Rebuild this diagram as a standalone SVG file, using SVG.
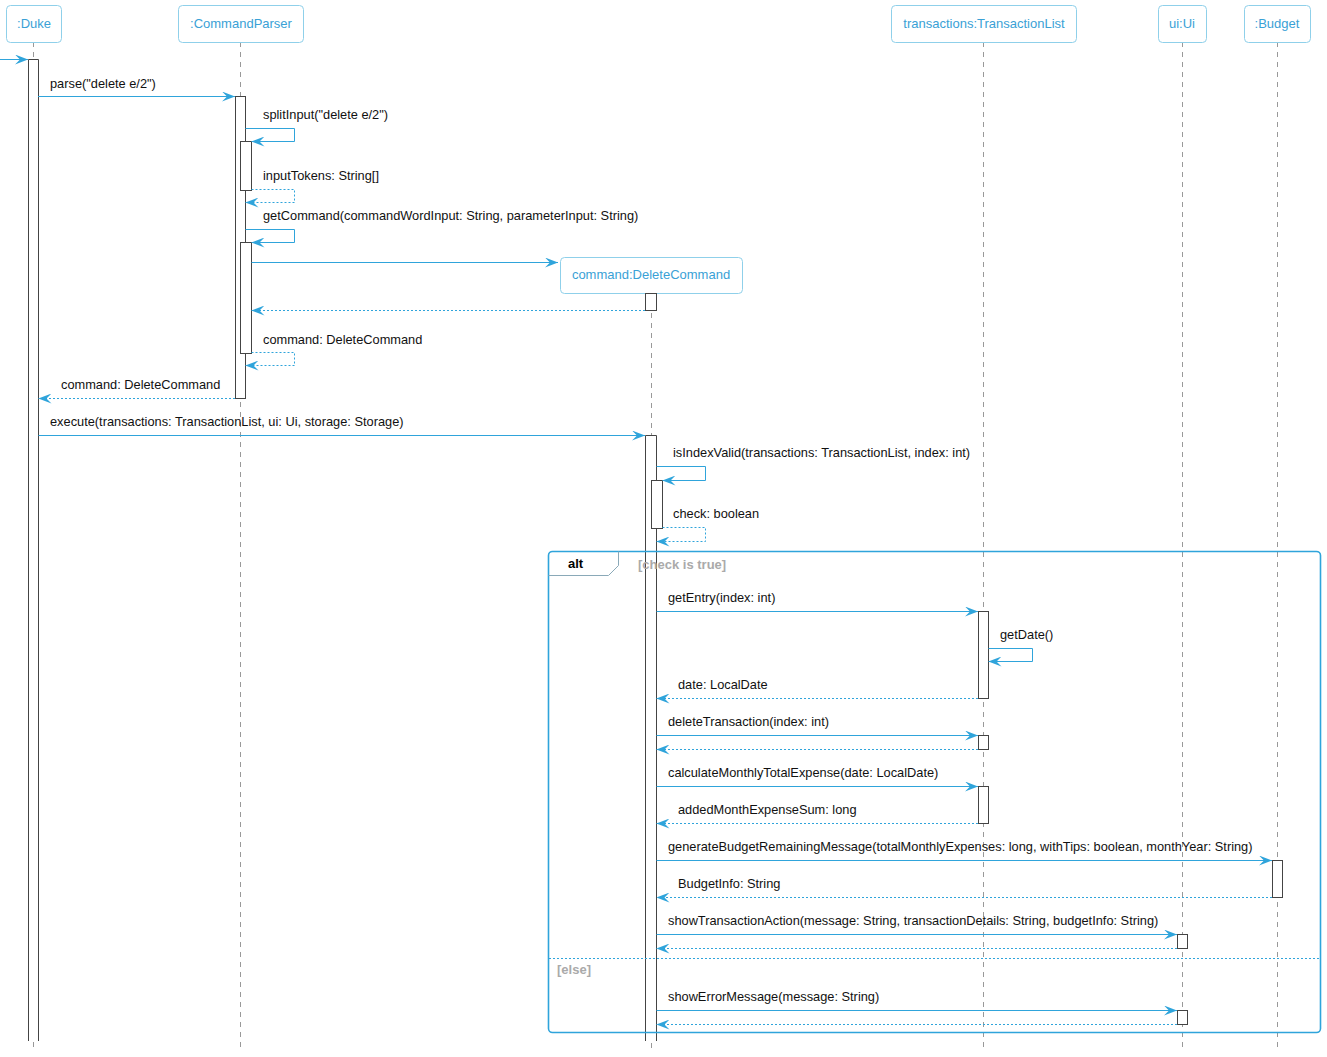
<svg xmlns="http://www.w3.org/2000/svg" width="1327" height="1057" viewBox="0 0 1327 1057">
<defs>
<marker id="ah" viewBox="0 0 13 10" refX="13" refY="5" markerWidth="13" markerHeight="10" markerUnits="userSpaceOnUse" orient="auto">
<path d="M0,0 L13,5 L0,10 L5,5 Z" fill="#2fa4db"/>
</marker>
<style>
.pbox{fill:#fff;stroke:#8fd0ea;stroke-width:1}
.ptxt{font-family:"Liberation Sans",Arial,sans-serif;font-size:13px;fill:#3aa1d6;text-anchor:middle}
.life{stroke:#999;stroke-width:1;stroke-dasharray:5,5;fill:none}
.act{fill:#fff;stroke:#444;stroke-width:1}
.msg{stroke:#2fa4db;stroke-width:1;fill:none;marker-end:url(#ah)}
.ret{stroke:#2fa4db;stroke-width:1;fill:none;stroke-dasharray:2,2;marker-end:url(#ah)}
.lbl{font-family:"Liberation Sans",Arial,sans-serif;font-size:12.8px;fill:#111}
.frame{fill:none;stroke:#2fa4db;stroke-width:1.6}
.tab{fill:none;stroke:#8aa9b8;stroke-width:1}
.alt{font-family:"Liberation Sans",Arial,sans-serif;font-size:13px;font-weight:bold;fill:#000}
.guard{font-family:"Liberation Sans",Arial,sans-serif;font-size:13px;font-weight:bold;fill:#aaa}
</style>
</defs>
<rect width="1327" height="1057" fill="#fff"/>

<g id="duke">
<line class="life" x1="33.5" y1="42" x2="33.5" y2="1048"/>
<rect class="pbox" x="6.5" y="5.5" width="55" height="37" rx="4"/>
<text class="ptxt" x="34" y="28">:Duke</text>
<rect x="28" y="59" width="10" height="982" fill="#fff"/>
<path class="act" d="M28.5,1041 V59.5 H38.5 V1041"/>
</g>

<g id="commandparser">
<line class="life" x1="240.5" y1="42" x2="240.5" y2="1048"/>
<rect class="pbox" x="178.5" y="5.5" width="125" height="37" rx="4"/>
<text class="ptxt" x="241" y="28">:CommandParser</text>
<rect class="act" x="235.5" y="96.5" width="10" height="302"/>
<rect class="act" x="240.5" y="141.5" width="11" height="49"/>
<rect class="act" x="240.5" y="242.5" width="11" height="111"/>
</g>

<g id="deletecommand">
<line class="life" x1="651.5" y1="293" x2="651.5" y2="1048"/>
<rect class="pbox" x="560.5" y="257.5" width="182" height="36" rx="4"/>
<text class="ptxt" x="651" y="279">command:DeleteCommand</text>
<rect class="act" x="645.5" y="293.5" width="11" height="17"/>
<rect x="645" y="435" width="11" height="606" fill="#fff"/>
<path class="act" d="M645.5,1041 V435.5 H656.5 V1041"/>
<rect class="act" x="651.5" y="480.5" width="11" height="48"/>
</g>

<g id="transactionlist">
<line class="life" x1="983.5" y1="42" x2="983.5" y2="1048"/>
<rect class="pbox" x="891.5" y="5.5" width="185" height="37" rx="4"/>
<text class="ptxt" x="984" y="28">transactions:TransactionList</text>
<rect class="act" x="978.5" y="611.5" width="10" height="87"/>
<rect class="act" x="978.5" y="735.5" width="10" height="14"/>
<rect class="act" x="978.5" y="786.5" width="10" height="37"/>
</g>

<g id="ui">
<line class="life" x1="1182.5" y1="42" x2="1182.5" y2="1048"/>
<rect class="pbox" x="1158.5" y="5.5" width="48" height="37" rx="4"/>
<text class="ptxt" x="1182" y="28">ui:Ui</text>
<rect class="act" x="1177.5" y="934.5" width="10" height="14"/>
<rect class="act" x="1177.5" y="1010.5" width="10" height="14"/>
</g>

<g id="budget">
<line class="life" x1="1277.5" y1="42" x2="1277.5" y2="1048"/>
<rect class="pbox" x="1244.5" y="5.5" width="66" height="37" rx="4"/>
<text class="ptxt" x="1277" y="28">:Budget</text>
<rect class="act" x="1272.5" y="860.5" width="10" height="37"/>
</g>

<g id="altframe">
<rect class="frame" x="548.5" y="551.5" width="772" height="481" rx="4"/>
<path class="tab" d="M548.5,575.5 H608.5 L618.5,565.5 V551.5"/>
<text class="alt" x="568" y="568">alt</text>
<text class="guard" x="638" y="569">[check is true]</text>
<line x1="549" y1="958.5" x2="1320" y2="958.5" stroke="#2fa4db" stroke-width="1" stroke-dasharray="2,2"/>
<text class="guard" x="557" y="974">[else]</text>
</g>

<g id="connectors">
<line class="msg" x1="0" y1="59.5" x2="28" y2="59.5"/>

<line class="msg" x1="38" y1="96.5" x2="235" y2="96.5"/>
<text class="lbl" x="50" y="88">parse("delete e/2")</text>

<path class="msg" d="M245.5,128.5 H294.5 V141.5 H251.5"/>
<text class="lbl" x="263" y="119">splitInput("delete e/2")</text>

<path class="ret" d="M251.5,189.5 H294.5 V202.5 H245.5"/>
<text class="lbl" x="263" y="180">inputTokens: String[]</text>

<path class="msg" d="M245.5,229.5 H294.5 V242.5 H251.5"/>
<text class="lbl" x="263" y="220">getCommand(commandWordInput: String, parameterInput: String)</text>

<line class="msg" x1="251.5" y1="262.5" x2="558" y2="262.5"/>

<line class="ret" x1="645" y1="310.5" x2="251.5" y2="310.5"/>

<path class="ret" d="M251.5,352.5 H294.5 V365.5 H245.5"/>
<text class="lbl" x="263" y="344">command: DeleteCommand</text>

<line class="ret" x1="235" y1="398.5" x2="38.5" y2="398.5"/>
<text class="lbl" x="61" y="389">command: DeleteCommand</text>

<line class="msg" x1="38.5" y1="435.5" x2="645" y2="435.5"/>
<text class="lbl" x="50" y="426">execute(transactions: TransactionList, ui: Ui, storage: Storage)</text>

<path class="msg" d="M656.5,466.5 H705.5 V480.5 H662.5"/>
<text class="lbl" x="673" y="457">isIndexValid(transactions: TransactionList, index: int)</text>

<path class="ret" d="M662.5,527.5 H705.5 V541.5 H656.5"/>
<text class="lbl" x="673" y="518">check: boolean</text>

<line class="msg" x1="656.5" y1="611.5" x2="978" y2="611.5"/>
<text class="lbl" x="668" y="602">getEntry(index: int)</text>

<path class="msg" d="M988.5,648.5 H1032.5 V661.5 H988.5"/>
<text class="lbl" x="1000" y="639">getDate()</text>

<line class="ret" x1="978" y1="698.5" x2="656.5" y2="698.5"/>
<text class="lbl" x="678" y="689">date: LocalDate</text>

<line class="msg" x1="656.5" y1="735.5" x2="978" y2="735.5"/>
<text class="lbl" x="668" y="726">deleteTransaction(index: int)</text>
<line class="ret" x1="978" y1="749.5" x2="656.5" y2="749.5"/>

<line class="msg" x1="656.5" y1="786.5" x2="978" y2="786.5"/>
<text class="lbl" x="668" y="777">calculateMonthlyTotalExpense(date: LocalDate)</text>
<line class="ret" x1="978" y1="823.5" x2="656.5" y2="823.5"/>
<text class="lbl" x="678" y="814">addedMonthExpenseSum: long</text>

<line class="msg" x1="656.5" y1="860.5" x2="1272" y2="860.5"/>
<text class="lbl" x="668" y="851">generateBudgetRemainingMessage(totalMonthlyExpenses: long, withTips: boolean, monthYear: String)</text>
<line class="ret" x1="1272" y1="897.5" x2="656.5" y2="897.5"/>
<text class="lbl" x="678" y="888">BudgetInfo: String</text>

<line class="msg" x1="656.5" y1="934.5" x2="1177" y2="934.5"/>
<text class="lbl" x="668" y="925">showTransactionAction(message: String, transactionDetails: String, budgetInfo: String)</text>
<line class="ret" x1="1177" y1="948.5" x2="656.5" y2="948.5"/>

<line class="msg" x1="656.5" y1="1010.5" x2="1177" y2="1010.5"/>
<text class="lbl" x="668" y="1001">showErrorMessage(message: String)</text>
<line class="ret" x1="1177" y1="1024.5" x2="656.5" y2="1024.5"/>
</g>
</svg>
